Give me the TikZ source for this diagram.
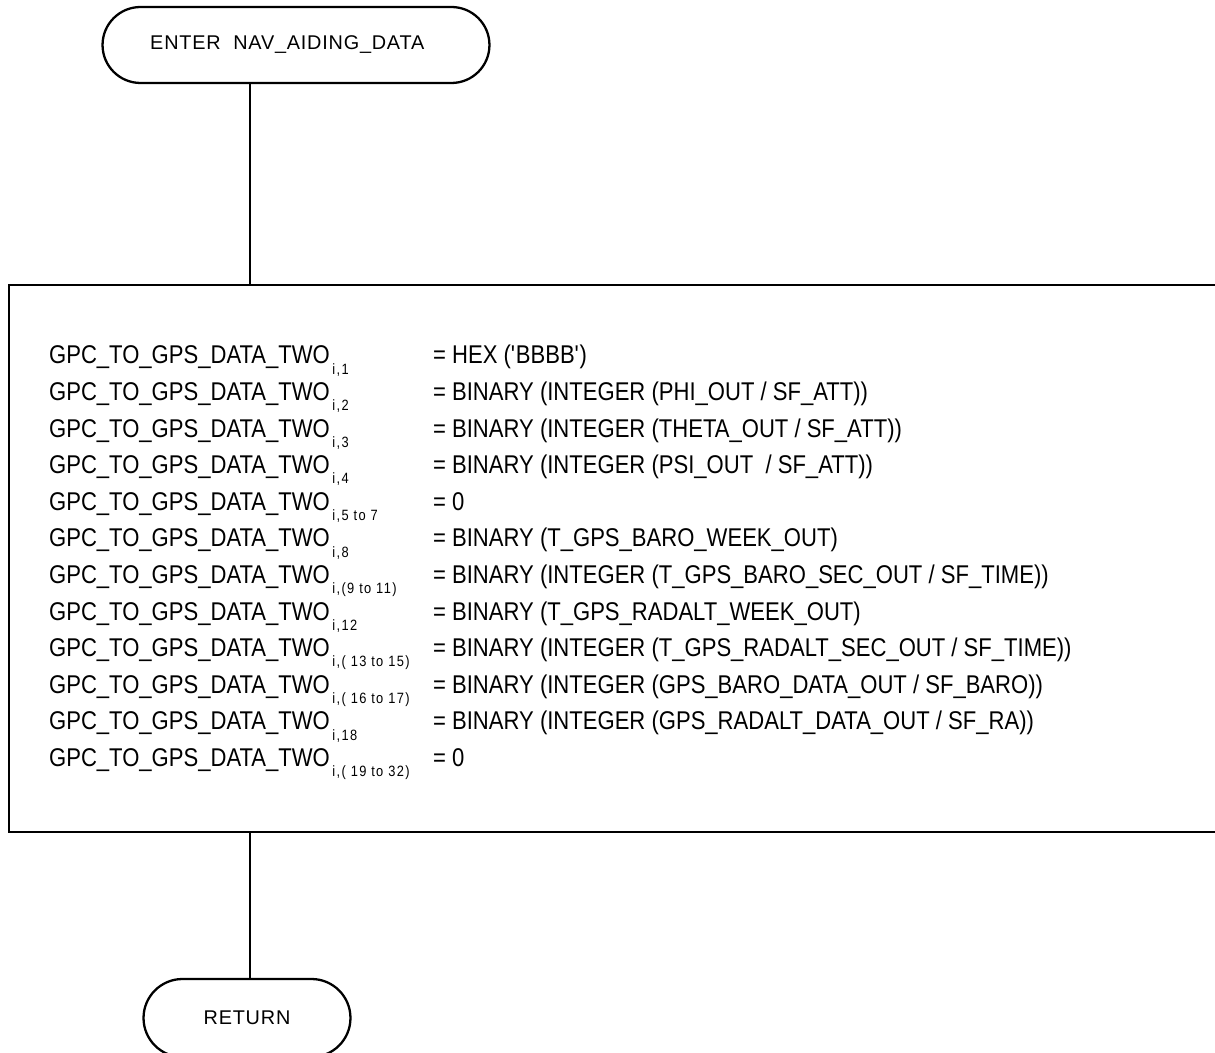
\documentclass[tikz,border=0pt]{standalone}
\usepackage{fontspec}
\setmainfont{Liberation Sans}
\newfontfamily\eqfont[FakeStretch=0.86]{Liberation Sans}
\usetikzlibrary{shapes.misc,positioning}

% word index set below the line
\newcommand{\wordidx}[1]{\kern1.5pt\raisebox{-5.8pt}{\fontsize{8.5}{8.5}\selectfont\addfontfeature{LetterSpace=9}#1}}

\begin{document}
\begin{tikzpicture}[x=0.02cm,y=-0.02cm,line width=1.3pt,
  terminal/.style={draw,rounded rectangle,inner sep=0pt,
    font=\fontsize{11.3}{11.3}\selectfont\addfontfeature{LetterSpace=4}},
  procbox/.style={draw,rectangle,inner sep=0pt},
  eqtext/.style={anchor=base west,inner sep=0pt,
    font=\eqfont\fontsize{14.6}{14.6}\selectfont}]
  \useasboundingbox (0,0) rectangle (1215,1053);
  \clip (0,0) rectangle (1215,1053);

  % Terminals
  \node[terminal,minimum width=7.74cm,minimum height=1.52cm] (enter) at (296,45)
    {ENTER~~NAV\_AIDING\_DATA\rule{0.35cm}{0pt}};
  \node[terminal,minimum width=4.14cm,minimum height=1.56cm] (ret) at (247,1018)
    {RETURN};

  % Process box (runs past the right edge)
  \node[procbox,minimum width=24.62cm,minimum height=10.94cm] (calc) at (624.5,558.5) {};

  % Flow lines
  \coordinate (flow) at (250,0);
  \draw (enter.south -| flow) -- (calc.north -| flow);
  \draw (calc.south -| flow) -- (ret.north -| flow);

  % Word assignments
  \foreach \n/\s/\r in {
      1/{i,1}/{= HEX (\textquotesingle BBBB\textquotesingle)},
      2/{i,2}/{= BINARY (INTEGER (PHI\_OUT / SF\_ATT))},
      3/{i,3}/{= BINARY (INTEGER (THETA\_OUT / SF\_ATT))},
      4/{i,4}/{= BINARY (INTEGER (PSI\_OUT~ / SF\_ATT))},
      5/{i,5 to 7}/{= 0},
      6/{i,8}/{= BINARY (T\_GPS\_BARO\_WEEK\_OUT)},
      7/{i,(9 to 11)}/{= BINARY (INTEGER (T\_GPS\_BARO\_SEC\_OUT / SF\_TIME))},
      8/{i,12}/{= BINARY (T\_GPS\_RADALT\_WEEK\_OUT)},
      9/{i,( 13 to 15)}/{= BINARY (INTEGER (T\_GPS\_RADALT\_SEC\_OUT / SF\_TIME))},
      10/{i,( 16 to 17)}/{= BINARY (INTEGER (GPS\_BARO\_DATA\_OUT / SF\_BARO))},
      11/{i,18}/{= BINARY (INTEGER (GPS\_RADALT\_DATA\_OUT / SF\_RA))},
      12/{i,( 19 to 32)}/{= 0}}{
    \node[eqtext] (lhs\n) at (48,{364+(\n-1)*36.6})
      {GPC\_TO\_GPS\_DATA\_TWO\wordidx{\s}};
    \node[eqtext] (rhs\n) at (432,{364+(\n-1)*36.6}) {\r};
  }
\end{tikzpicture}
\end{document}
